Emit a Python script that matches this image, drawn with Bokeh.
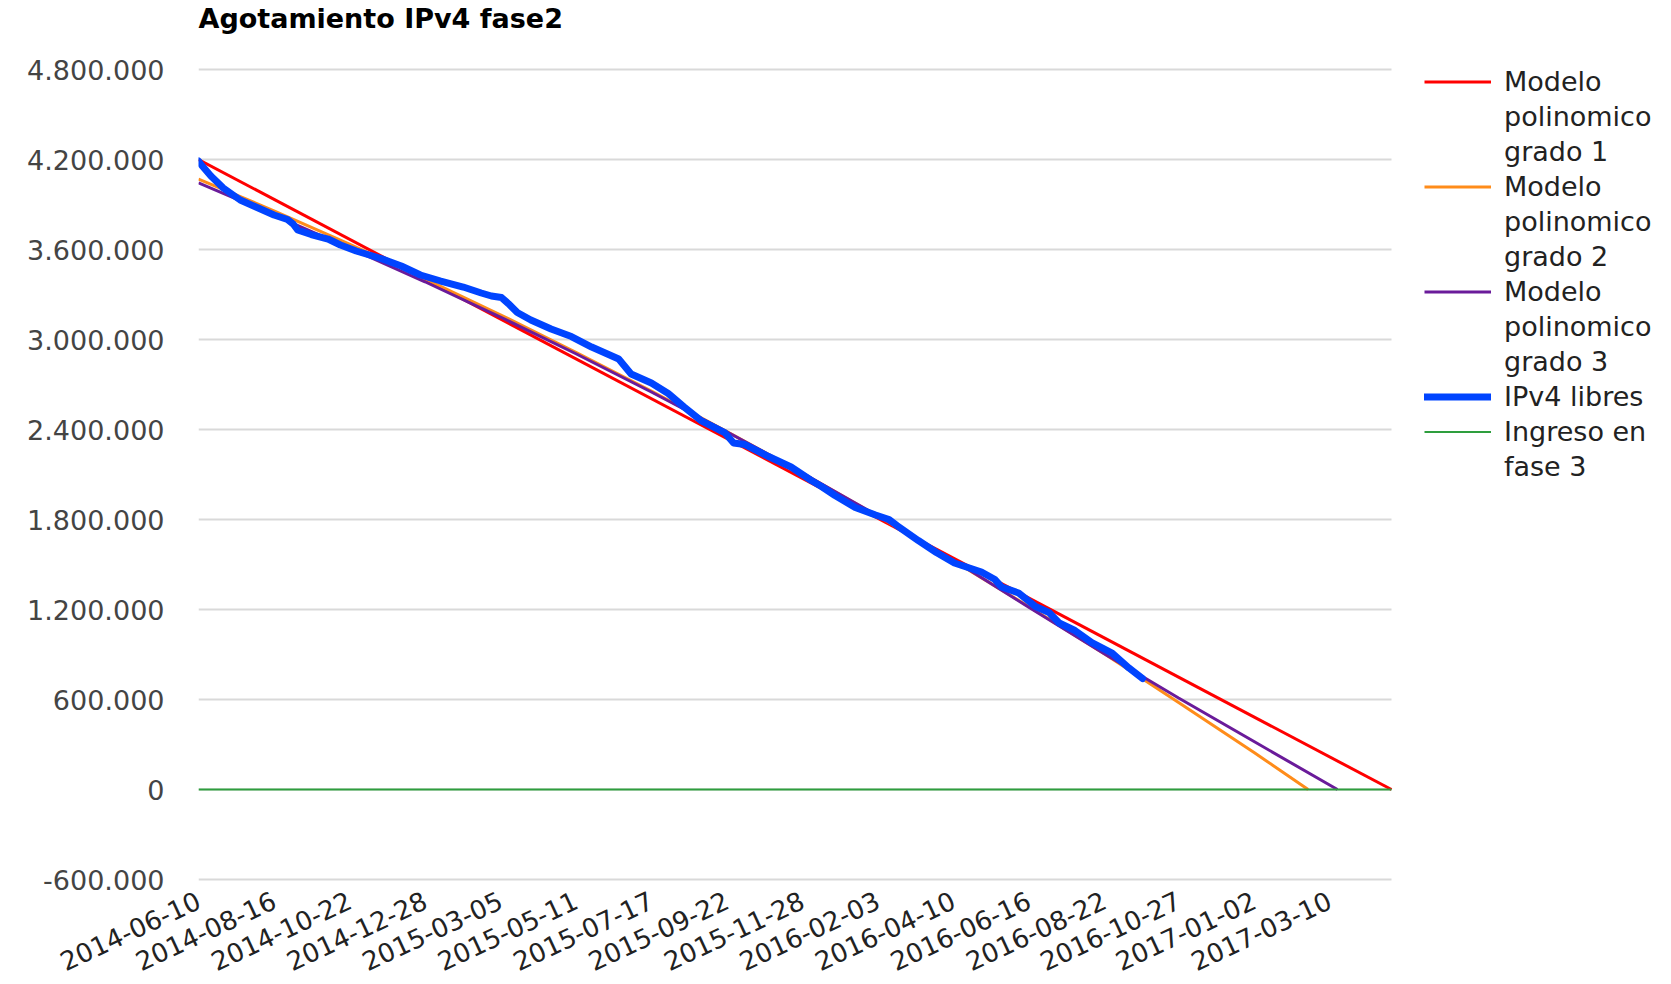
import math
import pandas as pd
from bokeh.plotting import figure
from bokeh.models import (Range1d, FixedTicker, DatetimeTickFormatter, Legend, LegendItem,
                          ColumnDataSource)
from bokeh.embed import file_html
from bokeh.resources import INLINE

# ---------------- data ----------------
TITLE = "Agotamiento IPv4 fase2"
START_DATE = "2014-06-10"
END_DATE = "2017-05-04"

TICK_LABELS = ["2014-06-10", "2014-08-16", "2014-10-22", "2014-12-28", "2015-03-05",
               "2015-05-11", "2015-07-17", "2015-09-22", "2015-11-28", "2016-02-03",
               "2016-04-10", "2016-06-16", "2016-08-22", "2016-10-27", "2017-01-02",
               "2017-03-10"]

Y_TICKS = [-600000, 0, 600000, 1200000, 1800000, 2400000, 3000000, 3600000, 4200000, 4800000]
Y_TICK_LABELS = ["-600.000", "0", "600.000", "1.200.000", "1.800.000", "2.400.000",
                 "3.000.000", "3.600.000", "4.200.000", "4.800.000"]

# Modelo polinomico grado 1
RED_DATES = ["2014-06-10", "2017-05-04"]
RED_VALUES = [4200000, 0]

# Modelo polinomico grado 2
ORANGE_DATES = TICK_LABELS[:15] + ["2017-02-19"]
ORANGE_VALUES = [4070000, 3858000, 3636000, 3405000, 3165000, 2915000, 2656000, 2387000,
                 2110000, 1823000, 1526000, 1220000, 905000, 581000, 247000, 0]

# Modelo polinomico grado 3
PURPLE_DATES = TICK_LABELS[:15] + ["2017-03-17"]
PURPLE_VALUES = [4045000, 3830000, 3610000, 3385000, 3150000, 2905000, 2650000, 2385000,
                 2110000, 1825000, 1530000, 1215000, 905000, 610000, 320000, 0]

# IPv4 libres (days after 2014-06-10)
BLUE_DAYS = [0, 3, 11, 22, 37, 52, 67, 79, 84, 88,
             100, 115, 126, 140, 162, 180, 197, 215, 235, 251,
             260, 269, 275, 283, 295, 313, 331, 349, 373, 384,
             402, 417, 431, 446, 467, 475, 485, 506, 526, 544,
             553, 565, 583, 601, 613, 620, 639, 655, 671, 687,
             695, 707, 713, 728, 743, 755, 764, 778, 793, 811,
             826, 838]
BLUE_VALUES = [4190000, 4160000, 4090000, 4010000, 3930000, 3880000, 3830000, 3800000, 3770000, 3730000,
               3700000, 3670000, 3630000, 3590000, 3540000, 3490000, 3430000, 3390000, 3350000, 3310000,
               3290000, 3280000, 3240000, 3180000, 3130000, 3070000, 3020000, 2950000, 2870000, 2770000,
               2710000, 2640000, 2550000, 2460000, 2380000, 2310000, 2300000, 2220000, 2150000, 2060000,
               2020000, 1960000, 1880000, 1830000, 1800000, 1760000, 1660000, 1580000, 1510000, 1470000,
               1450000, 1400000, 1350000, 1310000, 1220000, 1180000, 1110000, 1060000, 980000, 910000,
               810000, 740000]

# Ingreso en fase 3
GREEN_DATES = ["2014-06-10", "2017-05-04"]
GREEN_VALUES = [0, 0]

# ---------------- styling / layout ----------------
FONT = "DejaVu Sans"
C_RED = "#FF0000"
C_ORANGE = "#FF8C1A"
C_PURPLE = "#6A1B9A"
C_BLUE = "#0044FF"
C_GREEN = "#2E9E3E"
C_GRID = "#d9d9d9"

W, H = 1670, 983
FRAME_L, DATA_R, FRAME_T, FRAME_B = 198, 1391, 33, 881

t0 = pd.Timestamp(START_DATE)
t1 = pd.Timestamp(END_DATE)
# the frame extends to the right edge (room for the legend); data area ends at DATA_R
x_end = t0 + (t1 - t0) * ((W - FRAME_L) / (DATA_R - FRAME_L))

blue_dates = t0 + pd.to_timedelta(BLUE_DAYS, unit="D")

p = figure(width=W, height=H, x_axis_type="datetime",
           x_range=Range1d(t0, x_end),
           y_range=Range1d(-613000, 5040000),
           output_backend="svg", toolbar_location=None,
           min_border_left=FRAME_L, min_border_right=0, min_border_top=FRAME_T,
           min_border_bottom=H - FRAME_B)

p.title.text = TITLE
p.title.text_font = FONT
p.title.text_font_style = "bold"
p.title.text_font_size = "27px"
p.title.text_color = "#000000"
p.title.align = "left"
p.title.standoff = 0

p.outline_line_color = None
p.background_fill_color = "white"
p.border_fill_color = "white"

# axes
xa = p.xaxis[0]
xa.ticker = FixedTicker(ticks=[pd.Timestamp(t).value / 1e6 for t in TICK_LABELS])
fmt = "%Y-%m-%d"
xa.formatter = DatetimeTickFormatter(milliseconds=fmt, seconds=fmt, minsec=fmt, minutes=fmt,
                                     hourmin=fmt, hours=fmt, days=fmt, months=fmt, years=fmt,
                                     context=None)
xa.major_label_orientation = math.radians(25)
xa.major_label_text_font = FONT
xa.major_label_text_font_size = "26px"
xa.major_label_text_color = "#222222"
xa.axis_line_color = None
xa.major_tick_line_color = None
xa.minor_tick_line_color = None
xa.major_label_standoff = 11

ya = p.yaxis[0]
ya.ticker = FixedTicker(ticks=Y_TICKS)
ya.major_label_overrides = {t: lab for t, lab in zip(Y_TICKS, Y_TICK_LABELS)}
ya.major_label_text_font = FONT
ya.major_label_text_font_size = "27px"
ya.major_label_text_color = "#444444"
ya.axis_line_color = None
ya.major_tick_line_color = None
ya.minor_tick_line_color = None
ya.major_label_standoff = 28

p.xgrid.grid_line_color = None
p.ygrid.grid_line_color = None

# horizontal gridlines spanning the data period only
grid_src = ColumnDataSource(dict(x0=[t0] * len(Y_TICKS), x1=[t1] * len(Y_TICKS),
                                 y=Y_TICKS))
p.segment(x0="x0", x1="x1", y0="y", y1="y", source=grid_src,
          line_color=C_GRID, line_width=2)

# series
r_red = p.line(pd.to_datetime(RED_DATES), RED_VALUES, line_color=C_RED, line_width=3)
r_orange = p.line(pd.to_datetime(ORANGE_DATES), ORANGE_VALUES, line_color=C_ORANGE, line_width=3)
r_purple = p.line(pd.to_datetime(PURPLE_DATES), PURPLE_VALUES, line_color=C_PURPLE, line_width=3)
r_blue = p.line(blue_dates, BLUE_VALUES, line_color=C_BLUE, line_width=7,
                line_join="round", line_cap="round")
r_green = p.line(pd.to_datetime(GREEN_DATES), GREEN_VALUES, line_color=C_GREEN, line_width=2)

# invisible renderer used for wrapped legend continuation lines
r_blank = p.line(x=[], y=[], line_alpha=0)

items = [
    LegendItem(label="Modelo", renderers=[r_red]),
    LegendItem(label="polinomico", renderers=[r_blank]),
    LegendItem(label="grado 1", renderers=[r_blank]),
    LegendItem(label="Modelo", renderers=[r_orange]),
    LegendItem(label="polinomico", renderers=[r_blank]),
    LegendItem(label="grado 2", renderers=[r_blank]),
    LegendItem(label="Modelo", renderers=[r_purple]),
    LegendItem(label="polinomico", renderers=[r_blank]),
    LegendItem(label="grado 3", renderers=[r_blank]),
    LegendItem(label="IPv4 libres", renderers=[r_blue]),
    LegendItem(label="Ingreso en", renderers=[r_green]),
    LegendItem(label="fase 3", renderers=[r_blank]),
]
ROW = 35
LEG_X, LEG_TOP = 1424, 64
legend = Legend(items=items,
                location=(LEG_X - FRAME_L, (FRAME_B - LEG_TOP) - len(items) * ROW),
                padding=0, margin=0, spacing=0,
                glyph_width=67, glyph_height=ROW, label_height=ROW, label_standoff=13,
                label_text_font=FONT, label_text_font_size="27px",
                label_text_color="#222222", border_line_color=None,
                background_fill_alpha=0)
p.add_layout(legend, "center")

open("out.html", "w").write(file_html(p, INLINE))
